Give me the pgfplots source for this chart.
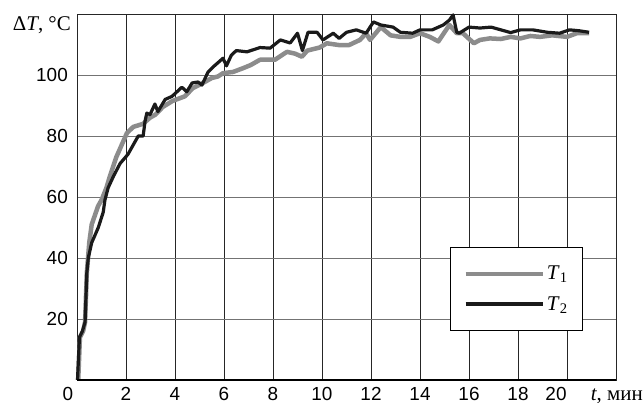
\documentclass[border=0pt]{standalone}
\usepackage{fontspec}
\setmainfont{Liberation Sans}
\newfontfamily\serif{Liberation Serif}
\usepackage{pgfplots}
\pgfplotsset{compat=1.18}
\definecolor{tone}{HTML}{8C8C8C}
\definecolor{ink}{HTML}{1A1A1A}

\begin{document}
\begin{tikzpicture}
\begin{axis}[
  at={(0,0)}, anchor=south west,
  scale only axis, width=539bp, height=366bp,
  xmin=0, xmax=22, ymin=0, ymax=120,
  xtick={2,4,...,18}, ytick={20,40,...,100},
  extra x ticks={20},
  extra x tick style={grid=major, xticklabel style={xshift=-11bp}},
  grid=major,
  x grid style={line width=0.8bp, black!85},
  y grid style={line width=0.8bp, black!55},
  axis line style={line width=0.8bp, black!85},
  major tick length=0pt,
  tick label style={font=\fontsize{19}{22}\selectfont},
  /pgf/number format/assume math mode=true,
  xticklabel style={anchor=base, yshift=-20bp},
  yticklabel style={anchor=east, inner sep=0pt, xshift=-9bp},
  clip=false,
  legend style={at={(rel axis cs:0.692,0.134)}, anchor=south west,
    draw=black, line width=0.8bp, fill=white,
    inner xsep=13bp, inner ysep=17bp, row sep=11bp,
    font=\serif\fontsize{21}{22}\selectfont},
  legend cell align=left,
  legend image code/.code={\draw[#1] (0bp,0bp) -- (77bp,0bp);},
]
\addplot[tone, line width=4.5bp, line join=round] coordinates {
(0.05,0) (0.12,14) (0.25,16) (0.33,19) (0.4,35) (0.5,45) (0.6,51) (0.86,57)
(1.0,59) (1.2,63) (1.35,67) (1.6,73) (2.04,81) (2.3,83) (2.7,84) (2.98,86)
(3.2,87) (3.5,89.5) (3.9,91.5) (4.2,92.4) (4.4,93) (4.73,95.7) (5.1,97.2)
(5.5,99) (5.75,99.5) (5.96,100.6) (6.37,101) (6.8,102.3) (7.1,103.3) (7.47,105)
(8.08,105) (8.57,107.6) (8.9,107) (9.18,106) (9.4,108) (9.9,109) (10.2,110.4)
(10.7,109.8) (11.1,109.8) (11.55,111.5) (11.8,113.7) (11.96,111.5) (12.4,115.7)
(12.8,113) (13.2,112.5) (13.6,112.5) (14.0,113.7) (14.4,112.5) (14.75,111)
(15.0,114) (15.2,116.4) (15.5,113.7) (15.75,113.7) (16.2,110.4) (16.45,111.5)
(16.85,112) (17.3,111.8) (17.7,112.5) (18.1,112) (18.5,112.8) (18.9,112.5)
(19.4,113) (20.0,112.5) (20.4,113.7) (20.9,113.7)
};
\addlegendentry{\textit{T}\textsubscript{1}}
\addplot[ink, line width=3.2bp, line join=round] coordinates {
(0.02,0) (0.1,14) (0.22,16) (0.33,19) (0.4,35) (0.46,40) (0.6,45) (0.87,50)
(1.07,55) (1.14,59) (1.27,63) (1.5,67) (1.76,71) (2.08,74) (2.5,80) (2.7,80)
(2.78,85) (2.85,87.5) (2.98,87) (3.18,90.5) (3.3,88) (3.6,92) (3.88,93)
(4.28,96) (4.48,94.5) (4.7,97.4) (4.94,97.7) (5.1,96.7) (5.35,101) (5.55,102.6)
(5.75,104) (5.96,105.5) (6.1,103) (6.3,106.5) (6.5,108) (6.94,107.6) (7.47,109)
(7.88,108.8) (8.3,111.5) (8.7,110.5) (9.0,113.7) (9.2,108) (9.43,114) (9.8,114)
(10.04,111.5) (10.46,113.7) (10.7,112) (11.0,114) (11.4,114.8) (11.8,113.7)
(12.1,117.4) (12.4,116.4) (12.9,115.7) (13.2,114) (13.7,113.7) (14.0,114.8)
(14.5,114.8) (14.95,116.4) (15.2,118) (15.35,119.7) (15.5,114) (15.6,113.7)
(16.0,115.7) (16.45,115.4) (16.9,115.7) (17.3,114.8) (17.7,113.9) (18.1,114.8)
(18.6,114.8) (19.2,114) (19.7,113.7) (20.1,114.8) (20.5,114.5) (20.9,114)
};
\addlegendentry{\textit{T}\textsubscript{2}}
\draw[line width=2bp, black] (rel axis cs:0,0) -- (rel axis cs:1,0);
\node[anchor=north east, inner sep=0pt, font=\serif\fontsize{21}{22}\selectfont]
  at ([shift={(-6bp,-2bp)}]rel axis cs:0,1) {Δ\textit{T}, °C};
\node[anchor=base east, inner sep=0pt, font=\serif\fontsize{21}{22}\selectfont]
  at ([shift={(566bp,-20bp)}]rel axis cs:0,0) {\textit{t}, мин};
\node[anchor=base, inner sep=0pt, font=\fontsize{19}{22}\selectfont]
  at ([shift={(-9bp,-20bp)}]rel axis cs:0,0) {0};
\end{axis}
\pgfresetboundingbox
\path (-77bp,-23bp) rectangle (567bp,380bp);
\end{tikzpicture}
\end{document}
